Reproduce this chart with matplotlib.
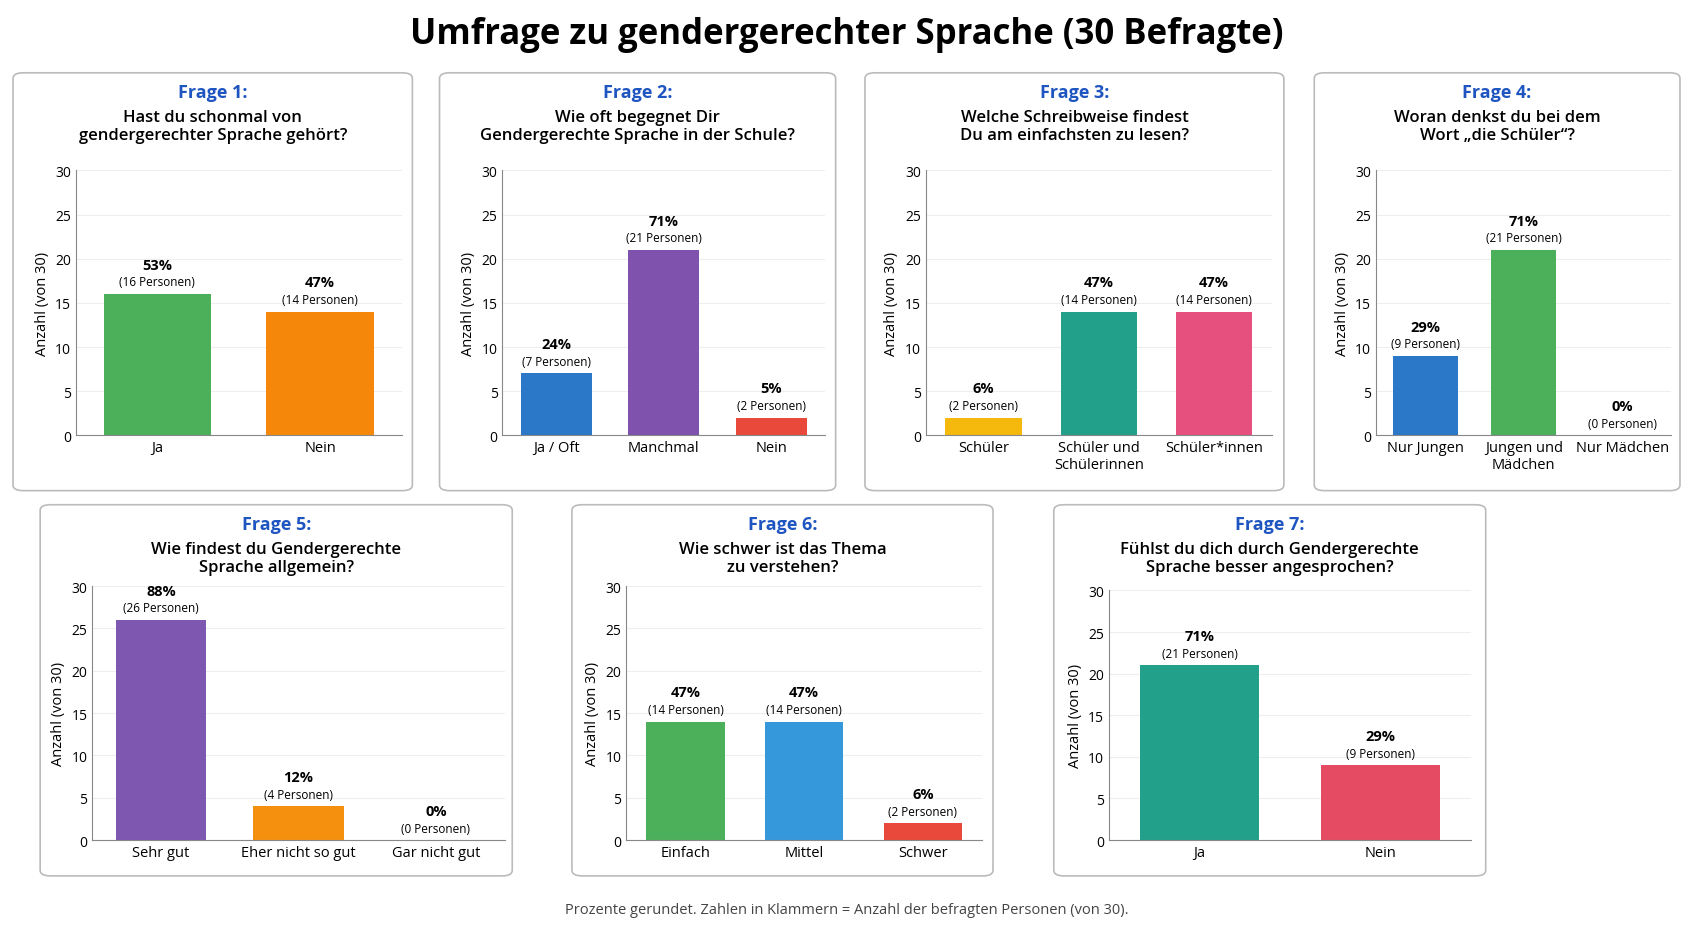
import matplotlib
matplotlib.use("Agg")
import matplotlib.pyplot as plt
from matplotlib.patches import FancyBboxPatch

plt.rcParams['font.family'] = ['Open Sans', 'DejaVu Sans']

q_titles = ["Frage 1:", "Frage 2:", "Frage 3:", "Frage 4:", "Frage 5:", "Frage 6:", "Frage 7:"]
q_texts = ["Hast du schonmal von\ngendergerechter Sprache gehört?",
           "Wie oft begegnet Dir\nGendergerechte Sprache in der Schule?",
           "Welche Schreibweise findest\nDu am einfachsten zu lesen?",
           "Woran denkst du bei dem\nWort „die Schüler“?",
           "Wie findest du Gendergerechte\nSprache allgemein?",
           "Wie schwer ist das Thema\nzu verstehen?",
           "Fühlst du dich durch Gendergerechte\nSprache besser angesprochen?"]
cats = [["Ja", "Nein"],
        ["Ja / Oft", "Manchmal", "Nein"],
        ["Schüler", "Schüler und\nSchülerinnen", "Schüler*innen"],
        ["Nur Jungen", "Jungen und\nMädchen", "Nur Mädchen"],
        ["Sehr gut", "Eher nicht so gut", "Gar nicht gut"],
        ["Einfach", "Mittel", "Schwer"],
        ["Ja", "Nein"]]
counts = [[16, 14], [7, 21, 2], [2, 14, 14], [9, 21, 0], [26, 4, 0], [14, 14, 2], [21, 9]]
percents = [[53, 47], [24, 71, 5], [6, 47, 47], [29, 71, 0], [88, 12, 0], [47, 47, 6], [71, 29]]
colors = [["#4CAF5A", "#F5870A"],
          ["#2B78C8", "#7E52AD", "#E8493A"],
          ["#F5B80C", "#22A08A", "#E5507F"],
          ["#2B78C8", "#4CAF5A", "#AAAAAA"],
          ["#7E57B0", "#F5900F", "#AAAAAA"],
          ["#4CAF5A", "#3598DB", "#E8493A"],
          ["#22A08A", "#E54B62"]]

W, H = 1560.0, 856.0
boxes = [(12, 68, 380, 453), (405, 68, 770, 453), (797, 68, 1183, 453), (1211, 68, 1548, 453),
         (37, 466, 472, 808), (527, 466, 915, 808), (971, 466, 1369, 808)]
axes_px = [(70, 158, 370, 402), (463, 158, 760, 402), (853, 158, 1172, 402), (1268, 158, 1540, 402),
           (85, 541, 465, 775), (577, 541, 905, 775), (1022, 545, 1355, 775)]

fig = plt.figure(figsize=(16.93, 9.29), dpi=100)
fig.text(0.5, 1 - 32 / H, "Umfrage zu gendergerechter Sprache (30 Befragte)", ha='center', va='center',
         fontsize=25, fontweight='bold')

for i in range(7):
    x0, y0, x1, y1 = boxes[i]
    fig.patches.append(FancyBboxPatch((x0 / W, 1 - y1 / H), (x1 - x0) / W, (y1 - y0) / H,
                                      boxstyle="round,pad=0,rounding_size=0.006",
                                      transform=fig.transFigure, fc='white', ec='#BBBBBB', lw=1.2,
                                      zorder=-5))
    cx = (x0 + x1) / 2 / W
    fig.text(cx, 1 - (y0 + 18) / H, q_titles[i], ha='center', va='center', fontsize=13,
             fontweight='bold', color='#1F55C0')
    fig.text(cx, 1 - (y0 + 49) / H, q_texts[i], ha='center', va='center', fontsize=12,
             fontweight='semibold', linespacing=1.15)
    ax0, ay0, ax1, ay1 = axes_px[i]
    ax = fig.add_axes([ax0 / W, 1 - ay1 / H, (ax1 - ax0) / W, (ay1 - ay0) / H])
    ax.patch.set_alpha(0)
    n = len(cats[i])
    xs = list(range(n))
    ax.bar(xs, counts[i], width=0.66, color=colors[i][:n])
    for x, c, p in zip(xs, counts[i], percents[i]):
        ax.annotate(f"({c} Personen)", (x, c), xytext=(0, 4), textcoords='offset points',
                    ha='center', va='bottom', fontsize=8.5)
        ax.annotate(f"{p}%", (x, c), xytext=(0, 16), textcoords='offset points',
                    ha='center', va='bottom', fontsize=10.5, fontweight='bold')
    ax.set_ylim(0, 30)
    ax.set_yticks([0, 5, 10, 15, 20, 25, 30])
    ax.set_xlim(-0.5, n - 0.5)
    ax.set_xticks(xs)
    ax.set_xticklabels(cats[i], fontsize=10.5)
    ax.tick_params(axis='y', labelsize=10, length=0)
    ax.tick_params(axis='x', length=0)
    ax.set_ylabel("Anzahl (von 30)", fontsize=10.5)
    ax.grid(axis='y', color='#EEEEEE', lw=0.8)
    ax.set_axisbelow(True)
    for s in ['top', 'right']:
        ax.spines[s].set_visible(False)
    for s in ['left', 'bottom']:
        ax.spines[s].set_color('#888888')

fig.text(0.5, 1 - 839 / H, "Prozente gerundet. Zahlen in Klammern = Anzahl der befragten Personen (von 30).",
         ha='center', va='center', fontsize=10.5, color='#444444')
fig.savefig("out.png", dpi=100)
